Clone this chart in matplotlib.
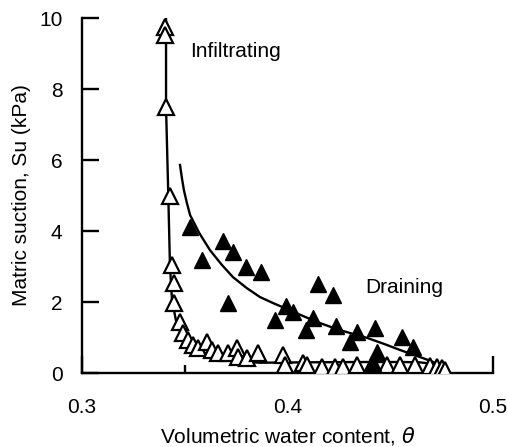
import numpy as np
import matplotlib
matplotlib.use('Agg')
import matplotlib.pyplot as plt

plt.rcParams['font.family'] = ['Liberation Sans', 'DejaVu Sans']

# infiltrating (wetting) curve
inf_curve_theta = [0.3409, 0.3409, 0.3420, 0.3428, 0.3438, 0.3457, 0.3470, 0.3491, 0.3515,
                   0.3540, 0.3580, 0.3623, 0.3665, 0.3706, 0.3780, 0.3866, 0.4060, 0.4350,
                   0.4560, 0.4645, 0.4690, 0.4718, 0.4750, 0.4776]
inf_curve_su = [10.0, 7.49, 5.0, 3.04, 2.06, 1.49, 1.25, 1.07, 0.88,
                0.73, 0.61, 0.51, 0.43, 0.37, 0.32, 0.29, 0.30, 0.31,
                0.31, 0.30, 0.27, 0.22, 0.12, 0.0]

# infiltrating measured points (open triangles)
inf_theta = [0.3404, 0.3404, 0.3409, 0.3430, 0.3436, 0.3450, 0.3450, 0.3477, 0.3491, 0.3516,
             0.3540, 0.3564, 0.3608, 0.3633, 0.3662, 0.3710, 0.3754, 0.3759, 0.3803, 0.3856,
             0.3978, 0.3988, 0.4075, 0.4095, 0.4168, 0.4231, 0.4270, 0.4338, 0.4411, 0.4484,
             0.4547, 0.4620, 0.4693, 0.4727, 0.4752, 0.4766]
inf_su = [9.75, 9.52, 7.49, 5.0, 3.04, 2.54, 1.97, 1.44, 1.13, 0.93,
          0.79, 0.70, 0.87, 0.65, 0.56, 0.56, 0.70, 0.45, 0.42, 0.56,
          0.51, 0.23, 0.28, 0.23, 0.17, 0.17, 0.17, 0.23, 0.23, 0.23,
          0.23, 0.23, 0.20, 0.17, 0.14, 0.08]

# draining curve
dr_curve_theta = [0.3477, 0.3486, 0.3496, 0.3510, 0.3526, 0.3570, 0.3623, 0.3680, 0.3735,
                  0.3800, 0.3866, 0.3930, 0.3998, 0.4070, 0.4143, 0.4200, 0.4255, 0.4320,
                  0.4387, 0.4470, 0.4547, 0.4610, 0.4659, 0.4705, 0.4742, 0.4765, 0.4781]
dr_curve_su = [5.86, 5.50, 5.15, 4.80, 4.45, 3.95, 3.46, 3.05, 2.70,
               2.40, 2.14, 1.97, 1.80, 1.62, 1.44, 1.32, 1.21, 1.10,
               0.99, 0.82, 0.65, 0.52, 0.42, 0.32, 0.22, 0.12, 0.0]

# draining measured points (filled triangles)
dr_theta = [0.3526, 0.3584, 0.3686, 0.3735, 0.3798, 0.3871, 0.3710, 0.3939, 0.3993, 0.4027,
            0.4090, 0.4124, 0.4150, 0.4219, 0.4236, 0.4338, 0.4304, 0.4426, 0.4557, 0.4611,
            0.4436, 0.4416]
dr_su = [4.11, 3.18, 3.72, 3.41, 2.99, 2.85, 1.97, 1.49, 1.89, 1.72,
         1.21, 1.55, 2.52, 2.21, 1.32, 1.15, 0.87, 1.27, 1.01, 0.73,
         0.59, 0.28]

fig = plt.figure(figsize=(5.07, 4.47), dpi=100)
ax = fig.add_axes([0.1617, 0.1655, 0.8107, 0.7942])

ax.plot(inf_curve_theta, inf_curve_su, color='black', lw=1.7, zorder=2)
ax.plot(dr_curve_theta, dr_curve_su, color='black', lw=1.7, zorder=2)
ax.plot(inf_theta, inf_su, ls='none', marker='^', ms=11, mfc='white', mec='black', mew=1.6, zorder=3)
ax.plot(dr_theta, dr_su, ls='none', marker='^', ms=11, mfc='black', mec='black', mew=1.0, zorder=4)

ax.text(0.3526, 9.05, 'Infiltrating', fontsize=15, va='center', ha='left')
ax.text(0.4377, 2.42, 'Draining', fontsize=15, va='center', ha='left')

ax.set_xlim(0.3, 0.5)
ax.set_ylim(0, 10)
ax.set_xticks([0.3, 0.4, 0.5])
ax.set_xticklabels(['0.3', '0.4', '0.5'])
ax.set_xticks([0.35, 0.45], minor=True)
ax.set_yticks([0, 2, 4, 6, 8, 10])

for s in ['top', 'right']:
    ax.spines[s].set_visible(False)
for s in ['left', 'bottom']:
    ax.spines[s].set_linewidth(1.7)

ax.tick_params(axis='both', which='major', direction='in', length=12, width=1.7, labelsize=15)
ax.tick_params(axis='x', which='major', pad=18)
ax.tick_params(axis='x', which='minor', direction='in', length=6, width=1.7)
ax.tick_params(axis='y', pad=14)

ax.set_xlabel('Volumetric water content, $\\theta$', fontsize=15, labelpad=6)
ax.set_ylabel('Matric suction, Su (kPa)', fontsize=15, labelpad=6)

fig.savefig('out.png', dpi=100)
